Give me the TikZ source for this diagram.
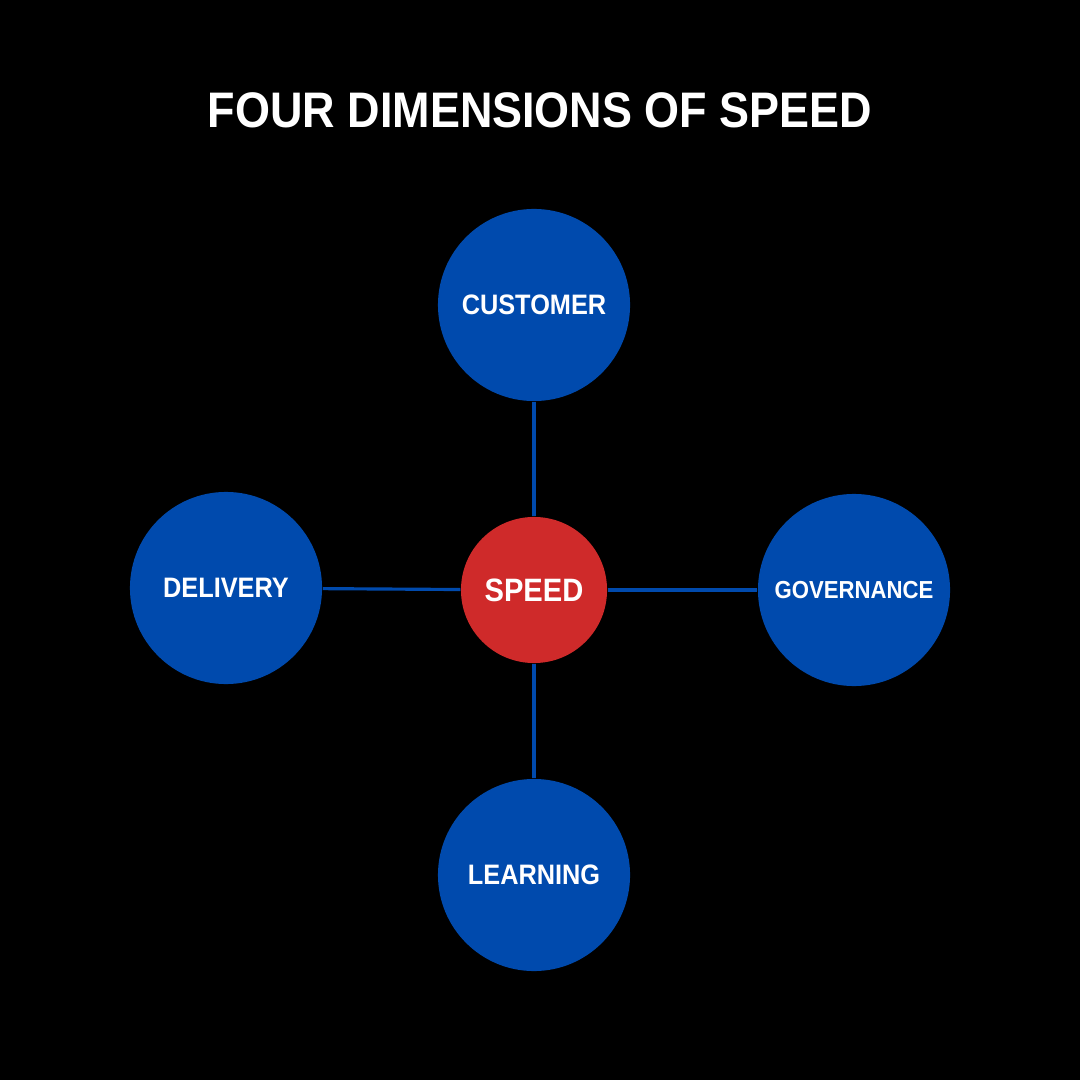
\documentclass[tikz,border=0pt]{standalone}
\usepackage{fontspec}
\setmainfont[FakeStretch=0.9]{Liberation Sans}
\definecolor{nodeblue}{HTML}{004AAD}
\definecolor{nodered}{HTML}{CF2A2A}
\begin{document}
\begin{tikzpicture}[x=0.01cm,y=-0.01cm,
  dim/.style={circle,fill=nodeblue,minimum size=1.92cm,inner sep=0pt,text=white,font=\bfseries\fontsize{8}{9}\selectfont},
  hub/.style={circle,fill=nodered,minimum size=1.46cm,inner sep=0pt,text=white,font=\bfseries\fontsize{9.2}{11}\selectfont},
  link/.style={draw=nodeblue,line width=0.9pt}]
\fill[black] (0,0) rectangle (1080,1080);
\useasboundingbox (0,0) rectangle (1080,1080);
\node[text=white,font=\bfseries\fontsize{14.2}{16}\selectfont] (title) at (540,110) {FOUR DIMENSIONS OF SPEED};
\node[dim] (cust) at (534,305) {CUSTOMER};
\node[dim] (deliv) at (226,588) {DELIVERY};
\node[dim,font=\bfseries\fontsize{7}{9}\selectfont] (gov) at (854,590) {GOVERNANCE};
\node[dim] (learn) at (534,875) {LEARNING};
\node[hub] (speed) at (534,590) {SPEED};
\draw[link] (speed) -- (cust);
\draw[link] (speed) -- (deliv);
\draw[link] (speed) -- (gov);
\draw[link] (speed) -- (learn);
\end{tikzpicture}
\end{document}
